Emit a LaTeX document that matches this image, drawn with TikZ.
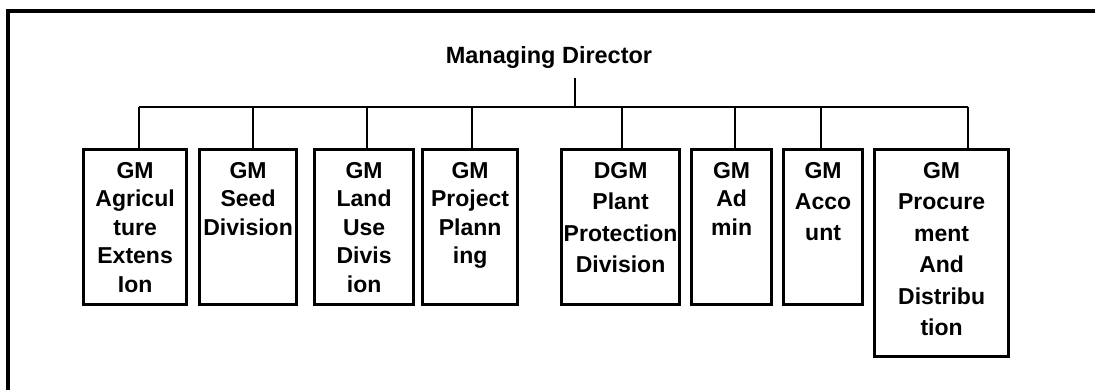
\documentclass[tikz,border=0pt]{standalone}
\usepackage{fontspec}
\setmainfont{Liberation Sans}
\begin{document}
\begin{tikzpicture}[x=1pt,y=-1pt,
  frame/.style={line width=3.2pt},
  conn/.style={line width=2.8pt},
  orgbox/.style={draw,line width=3.2pt,minimum height=155pt,inner sep=0pt,anchor=north west},
  boxtext/.style={anchor=north,align=center,inner sep=0pt,font=\fontsize{23}{#1}\bfseries\selectfont},
  boxtext/.default=28.5,
  mdtext/.style={inner sep=0pt,font=\fontsize{23.5}{27}\bfseries\selectfont}]
\useasboundingbox (0,0) rectangle (1095,390);
% frame
\coordinate (ftl) at (8,11);
\coordinate (ftr) at (1095,11);
\coordinate (fbl) at (8,390);
\draw[frame] (ftr) -- (ftl) -- (fbl);
% managing director
\node[mdtext] (md) at (549,57) {Managing Director};
\coordinate (mdb) at (575,78);
\coordinate (bus) at (575,107);
\draw[conn] (mdb) -- (bus);
% boxes
\node[orgbox,minimum width=103pt] (b1) at (82,148) {};
\node[orgbox,minimum width=97pt]  (b2) at (198,148) {};
\node[orgbox,minimum width=99pt]  (b3) at (313,148) {};
\node[orgbox,minimum width=95pt]  (b4) at (421,148) {};
\node[orgbox,minimum width=118pt] (b5) at (560,148) {};
\node[orgbox,minimum width=80pt]  (b6) at (690,148) {};
\node[orgbox,minimum width=79pt]  (b7) at (782,148) {};
\node[orgbox,minimum width=134pt,minimum height=207pt] (b8) at (873,148) {};
% texts
\node[boxtext] (t1) at ([yshift=-14pt]b1.north) {GM\\Agricul\\ture\\Extens\\Ion};
\node[boxtext] (t2) at ([yshift=-14pt]b2.north) {GM\\Seed\\Division};
\node[boxtext] (t3) at ([yshift=-14pt]b3.north) {GM\\Land\\Use\\Divis\\ion};
\node[boxtext] (t4) at ([yshift=-14pt]b4.north) {GM\\Project\\Plann\\ing};
\node[boxtext=31.5] (t5) at ([yshift=-14pt]b5.north) {DGM\\Plant\\Protection\\Division};
\node[boxtext] (t6) at ([yshift=-14pt]b6.north) {GM\\Ad\\min};
\node[boxtext=31] (t7) at ([yshift=-14pt]b7.north) {GM\\Acco\\unt};
\node[boxtext=31.5] (t8) at ([yshift=-14pt]b8.north) {GM\\Procure\\ment\\And\\Distribu\\tion};
% bus and drops
\coordinate (j1) at (139,107);
\coordinate (j2) at (253,107);
\coordinate (j3) at (367,107);
\coordinate (j4) at (472,107);
\coordinate (j5) at (622,107);
\coordinate (j6) at (735,107);
\coordinate (j7) at (821,107);
\coordinate (j8) at (968,107);
\draw[conn] (j1) -- (j8);
\foreach \i in {1,...,8} {
  \draw[conn] (j\i) -- (j\i |- b\i.north);
}
\end{tikzpicture}
\end{document}
